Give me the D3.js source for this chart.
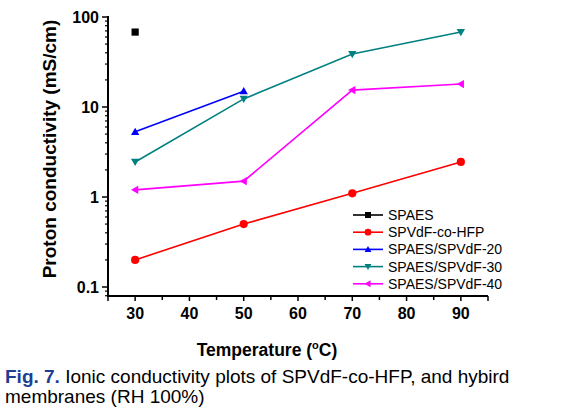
<!DOCTYPE html>
<html><head><meta charset="utf-8">
<script src="https://cdn.jsdelivr.net/npm/d3@7"></script>
<style>body{margin:0;background:#fff}svg{display:block}</style>
</head><body>
<svg id="c" width="582" height="419"></svg>
<script>
const temps = [30, 50, 70, 90];
const seriesNames = ["SPAES", "SPVdF-co-HFP", "SPAES/SPVdF-20", "SPAES/SPVdF-30", "SPAES/SPVdF-40"];
const spaes = [68, null, null, null];
const spvdf = [0.2, 0.5, 1.1, 2.45];
const blend20 = [5.3, 15, null, null];
const blend30 = [2.45, 12.3, 38.8, 68];
const blend40 = [1.2, 1.5, 15.4, 18];
const colors = ["#000000", "#ff0000", "#0000ff", "#008080", "#ff00ff"];
const shapes = ["square", "circle", "up", "down", "left"];
const xTicks = [30, 40, 50, 60, 70, 80, 90];
const yTicks = [0.1, 1, 10, 100];
const yTickLabels = ["0.1", "1", "10", "100"];

const svg = d3.select("#c");
const x = d3.scaleLinear().domain([25, 95]).range([108, 488]);
const y = d3.scaleLog().domain([Math.pow(10, -1.1), 100]).range([296, 17]);

const font = "Liberation Sans, Arial, sans-serif";

// minor y ticks
const yMinor = [];
for (let e = -2; e < 2; e++) for (let k = 2; k <= 9; k++) { const v = k * Math.pow(10, e); if (v >= y.domain()[0] && v <= 100) yMinor.push(v); }
const gy = svg.append("g").attr("transform", "translate(108,0)");
gy.append("line").attr("y1", y.range()[1] - 1).attr("y2", 296).attr("stroke", "#000").attr("stroke-width", 2);
gy.selectAll(".mn").data(yMinor).join("line").attr("x1", -3).attr("x2", 0).attr("y1", d => y(d)).attr("y2", d => y(d)).attr("stroke", "#000").attr("stroke-width", 1.2);
gy.selectAll(".mj").data(yTicks).join("line").attr("x1", -6).attr("x2", 0).attr("y1", d => y(d)).attr("y2", d => y(d)).attr("stroke", "#000").attr("stroke-width", 1.5);
gy.selectAll("text").data(yTicks).join("text").attr("x", -9).attr("y", d => y(d)).attr("dy", "0.35em").attr("text-anchor", "end")
  .attr("font-family", font).attr("font-weight", "bold").attr("font-size", 16).text((d, i) => yTickLabels[i]);

// x axis
const xMinor = d3.range(35, 95, 10);
const gx = svg.append("g").attr("transform", "translate(0,296)");
gx.append("line").attr("x1", 107).attr("x2", x(95)).attr("stroke", "#000").attr("stroke-width", 2);
gx.selectAll(".mn").data(xMinor).join("line").attr("x1", d => x(d)).attr("x2", d => x(d)).attr("y1", 0).attr("y2", 4).attr("stroke", "#000").attr("stroke-width", 1.5);
gx.selectAll(".mj").data(xTicks.concat([25, 95])).join("line").attr("x1", d => x(d)).attr("x2", d => x(d)).attr("y1", 0).attr("y2", 5).attr("stroke", "#000").attr("stroke-width", 1.5);
gx.selectAll("text").data(xTicks).join("text").attr("x", d => x(d)).attr("y", 23).attr("text-anchor", "middle")
  .attr("font-family", font).attr("font-weight", "bold").attr("font-size", 16).text(d => d);

// axis titles
svg.append("text").attr("transform", "translate(56,149) rotate(-90)").attr("text-anchor", "middle")
  .attr("font-family", font).attr("font-weight", "bold").attr("font-size", 19).text("Proton conductivity (mS/cm)");
const xt = svg.append("text").attr("x", 267).attr("y", 356).attr("text-anchor", "middle")
  .attr("font-family", font).attr("font-weight", "bold").attr("font-size", 17.5);
xt.append("tspan").text("Temperature (");
xt.append("tspan").attr("font-size", 11).attr("dy", -7).text("o");
xt.append("tspan").attr("dy", 7).text("C)");

// series
const allData = [spaes, spvdf, blend20, blend30, blend40];
function symbolPath(shape, s) {
  if (shape === "square") return `M${-s},${-s}H${s}V${s}H${-s}Z`;
  if (shape === "circle") return d3.symbol(d3.symbolCircle, Math.PI * s * s * 1.3)();
  const h = s * 1.15;
  if (shape === "up") return `M0,${-h}L${h},${h*0.75}L${-h},${h*0.75}Z`;
  if (shape === "down") return `M0,${h}L${h},${-h*0.75}L${-h},${-h*0.75}Z`;
  if (shape === "left") return `M${-h},0L${h*0.75},${-h}L${h*0.75},${h}Z`;
}
const line = d3.line().defined(d => d.v != null).x(d => x(d.t)).y(d => y(d.v));
allData.forEach((vals, i) => {
  const pts = temps.map((t, j) => ({ t, v: vals[j] }));
  svg.append("path").attr("d", line(pts)).attr("fill", "none").attr("stroke", colors[i]).attr("stroke-width", 1.6);
  svg.selectAll(null).data(pts.filter(d => d.v != null)).join("path")
    .attr("transform", d => `translate(${x(d.t)},${y(d.v)})`).attr("d", symbolPath(shapes[i], 3.6)).attr("fill", colors[i]);
});

// legend
const lg = svg.append("g");
seriesNames.forEach((n, i) => {
  const yy = 215 + i * 17.2;
  lg.append("line").attr("x1", 353).attr("x2", 383).attr("y1", yy).attr("y2", yy).attr("stroke", colors[i]).attr("stroke-width", 1.6);
  lg.append("path").attr("transform", `translate(368,${yy})`).attr("d", symbolPath(shapes[i], 3)).attr("fill", colors[i]);
  lg.append("text").attr("x", 388).attr("y", yy).attr("dy", "0.36em").attr("font-family", font).attr("font-size", 14).text(n);
});

// caption
const cap = svg.append("g").attr("font-family", font).attr("font-size", 19);
const l1 = cap.append("text").attr("x", 5).attr("y", 383);
l1.append("tspan").attr("fill", "#1c3f94").attr("font-weight", "bold").text("Fig. 7.");
l1.append("tspan").attr("fill", "#000").text(" Ionic conductivity plots of SPVdF-co-HFP, and hybird");
cap.append("text").attr("x", 5).attr("y", 403).attr("fill", "#000").text("membranes (RH 100%)");
</script>
</body></html>
